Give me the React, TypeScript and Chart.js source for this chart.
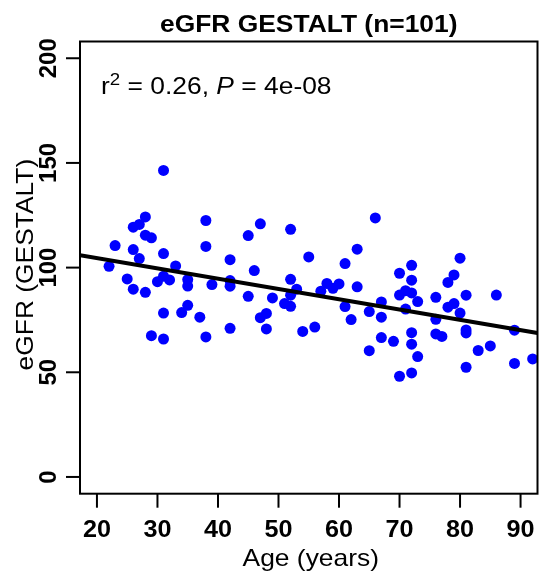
import React, { useEffect, useRef } from "react";
import { Chart, registerables } from "chart.js";

Chart.register(...registerables);

const AGES = [
  31, 28, 27, 26, 28, 29, 23, 26, 31, 27, 22, 33, 25, 31, 30, 32, 26, 28, 35, 35,
  35, 31, 34, 37, 29, 31, 38, 38, 47, 45, 52, 42, 46, 55, 39, 42, 42, 45, 49, 52,
  53, 52, 51, 52, 57, 48, 47, 42, 48, 54, 56, 38, 66, 63, 61, 70, 72, 72, 58, 59,
  60, 63, 70, 71, 72, 73, 67, 61, 65, 71, 62, 67, 67, 69, 72, 72, 65, 70, 72, 80,
  79, 78, 76, 81, 86, 78, 79, 80, 76, 76, 77, 81, 81, 89, 73, 83, 85, 81, 89, 92,
];
const EGFR = [
  146.4, 124.2, 120.6, 119.3, 115.5, 114.2, 110.5, 108.6, 106.7, 104.3, 100.6, 100.8, 94.6, 95.9, 93.3, 94.1, 89.7, 88.2, 94.3, 91.2,
  82.0, 78.3, 78.5, 76.3, 67.5, 65.9, 122.5, 110.1, 120.9, 115.3, 118.3, 103.8, 98.6, 105.1, 91.9, 93.8, 91.1, 86.3, 85.5, 94.4,
  89.7, 86.8, 82.8, 81.5, 88.7, 78.1, 76.1, 71.0, 70.7, 69.5, 71.6, 66.9, 123.7, 108.8, 101.9, 97.3, 101.1, 94.0, 92.4, 90.1,
  92.2, 90.8, 86.9, 89.0, 87.9, 83.8, 83.6, 81.4, 79.0, 80.2, 75.2, 76.3, 66.6, 64.8, 68.9, 63.4, 60.3, 48.1, 49.7, 104.5,
  96.5, 92.9, 85.8, 86.8, 86.9, 81.1, 82.8, 78.3, 75.3, 68.3, 67.1, 70.2, 68.8, 70.1, 57.5, 60.4, 62.6, 52.4, 54.2, 56.4,
];
const X_TICKS = [20, 30, 40, 50, 60, 70, 80, 90];
const Y_TICKS = [0, 50, 100, 150, 200];
const X_RANGE = [17.2, 92.8];
const Y_RANGE = [-8, 208];
const TITLE = "eGFR GESTALT (n=101)";
const X_LABEL = "Age (years)";
const Y_LABEL = "eGFR (GESTALT)";
const STAT_R2 = "0.26";
const STAT_P = "4e-08";

const FONT = '"Liberation Sans", Arial, Helvetica, sans-serif';

function linearFit(xs: number[], ys: number[]) {
  const n = xs.length;
  const mx = xs.reduce((a, b) => a + b, 0) / n;
  const my = ys.reduce((a, b) => a + b, 0) / n;
  let sxy = 0;
  let sxx = 0;
  for (let i = 0; i < n; i++) {
    sxy += (xs[i] - mx) * (ys[i] - my);
    sxx += (xs[i] - mx) * (xs[i] - mx);
  }
  const slope = sxy / sxx;
  return { slope, intercept: my - slope * mx };
}

function drawText(
  ctx: CanvasRenderingContext2D,
  s: string,
  x: number,
  y: number,
  font: string,
  align: CanvasTextAlign,
  sx = 1,
  rot = 0
) {
  ctx.save();
  ctx.translate(x, y);
  if (rot) ctx.rotate(rot);
  ctx.scale(sx, 1);
  ctx.font = font;
  ctx.textAlign = align;
  ctx.textBaseline = "alphabetic";
  ctx.fillStyle = "#000";
  ctx.fillText(s, 0, 0);
  ctx.restore();
}

const rAxesPlugin = {
  id: "rAxes",
  afterDraw(chart: any) {
    const { ctx, chartArea: ca, scales } = chart;
    const xs = scales.x;
    const ys = scales.y;
    ctx.save();
    ctx.strokeStyle = "#000";
    ctx.lineWidth = 2;
    ctx.strokeRect(ca.left, ca.top, ca.right - ca.left, ca.bottom - ca.top);

    const tickFont = `bold 24px ${FONT}`;
    X_TICKS.forEach((t) => {
      const px = xs.getPixelForValue(t);
      ctx.beginPath();
      ctx.moveTo(px, ca.bottom);
      ctx.lineTo(px, ca.bottom + 14);
      ctx.stroke();
      drawText(ctx, String(t), px, 537, tickFont, "center", 1.05);
    });
    Y_TICKS.forEach((t) => {
      const py = ys.getPixelForValue(t);
      ctx.beginPath();
      ctx.moveTo(ca.left - 14, py);
      ctx.lineTo(ca.left, py);
      ctx.stroke();
      drawText(ctx, String(t), 56, py, tickFont, "center", 1, -Math.PI / 2);
    });

    const cx = (ca.left + ca.right) / 2;
    drawText(ctx, TITLE, cx, 32, `bold 24px ${FONT}`, "center", 1.1);
    drawText(ctx, X_LABEL, cx + 2, 566, `24px ${FONT}`, "center", 1.1);
    drawText(ctx, Y_LABEL, 33, (ca.top + ca.bottom) / 2 - 3, `24px ${FONT}`, "center", 1.1, -Math.PI / 2);

    // annotation: r² = 0.26, P = 4e-08
    const sx = 1.1;
    let ax = 101;
    const ay = 94;
    const normal = `24px ${FONT}`;
    const sup = `17px ${FONT}`;
    const ital = `italic 24px ${FONT}`;
    const piece = (s: string, font: string, dy = 0) => {
      ctx.font = font;
      const w = ctx.measureText(s).width * sx;
      drawText(ctx, s, ax, ay + dy, font, "left", sx);
      ax += w;
    };
    piece("r", normal);
    piece("2", sup, -9);
    piece(` = ${STAT_R2}, `, normal);
    piece("P", ital);
    piece(` = ${STAT_P}`, normal);
    ctx.restore();
  },
};

export default function App() {
  const ref = useRef<HTMLCanvasElement | null>(null);
  useEffect(() => {
    if (!ref.current) return;
    const fit = linearFit(AGES, EGFR);
    const lineData = X_RANGE.map((x) => ({ x, y: fit.intercept + fit.slope * x }));
    const chart = new Chart(ref.current, {
      type: "scatter",
      data: {
        datasets: [
          {
            type: "line",
            data: lineData,
            borderColor: "#000",
            borderWidth: 4,
            pointRadius: 0,
            fill: false,
            showLine: true,
          } as any,
          {
            data: AGES.map((a, i) => ({ x: a, y: EGFR[i] })),
            backgroundColor: "#0000FF",
            borderWidth: 0,
            pointRadius: 5.5,
          },
        ],
      },
      options: {
        responsive: false,
        animation: false,
        events: [],
        layout: { padding: { left: 80, right: 2, top: 41.5, bottom: 84.3 } },
        plugins: { legend: { display: false }, tooltip: { enabled: false } },
        scales: {
          x: { type: "linear", min: X_RANGE[0], max: X_RANGE[1], display: false },
          y: { type: "linear", min: Y_RANGE[0], max: Y_RANGE[1], display: false },
        },
      },
      plugins: [rAxesPlugin],
    });
    return () => chart.destroy();
  }, []);
  return (
    <div style={{ position: "absolute", left: 0, top: 0, width: 543, height: 578, background: "#fff" }}>
      <canvas ref={ref} width={543} height={578} style={{ display: "block" }} />
    </div>
  );
}
